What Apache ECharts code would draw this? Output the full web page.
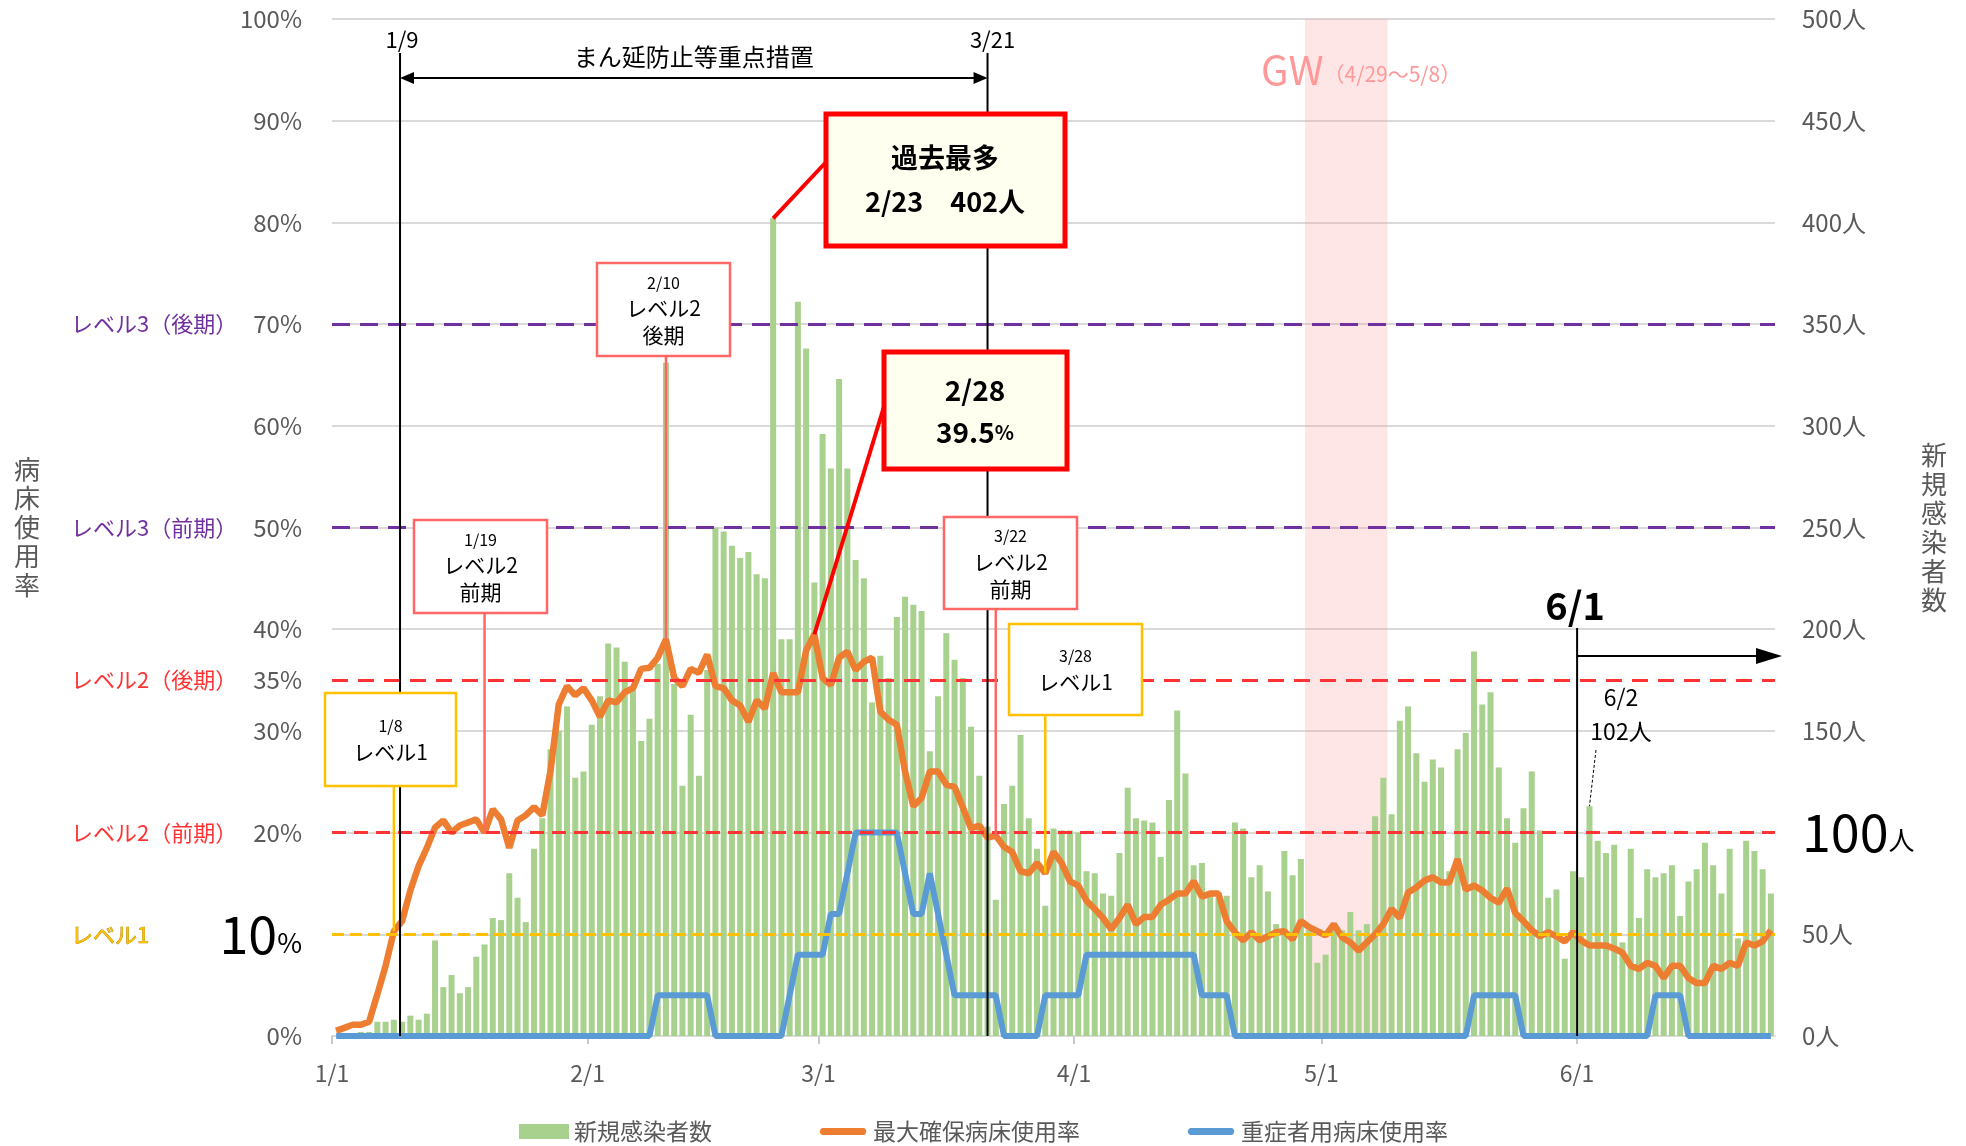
<!DOCTYPE html>
<html>
<head>
<meta charset="utf-8">
<script src="https://cdn.jsdelivr.net/npm/echarts@6/dist/echarts.min.js"></script>
<style>
html, body { margin: 0; padding: 0; background: #fff; }
#main { width: 1966px; height: 1146px; }
</style>
</head>
<body>
<div id="main"></div>
<script>
// 新規感染者数（人）1/1〜6/24
const casesJan = [0, 1, 1, 2, 2, 7, 7, 8, 7, 10, 8, 11, 47, 24, 30, 21, 24, 39, 45, 58, 57, 80, 68, 56, 92, 107, 141, 150, 162, 127, 130]
const casesFeb = [153, 167, 193, 191, 184, 170, 145, 156, 183, 331, 173, 123, 158, 128, 180, 250, 248, 241, 235, 238, 227, 225, 402, 195, 195, 361, 338, 223]
const casesMar = [296, 279, 323, 279, 234, 225, 164, 187, 176, 206, 216, 212, 209, 140, 167, 198, 185, 176, 152, 128, 103, 67, 114, 123, 148, 107, 92, 64, 102, 101, 101]
const casesApr = [100, 81, 80, 70, 69, 90, 122, 107, 106, 105, 88, 116, 160, 129, 84, 85, 70, 68, 69, 105, 102, 78, 84, 71, 55, 91, 79, 87, 52, 36]
const casesMay = [40, 54, 52, 61, 52, 55, 108, 127, 109, 155, 162, 139, 125, 136, 132, 81, 141, 149, 189, 163, 169, 132, 107, 95, 112, 130, 101, 68, 72, 38, 81]
const casesJun = [78, 113, 96, 90, 94, 46, 92, 58, 82, 78, 80, 84, 59, 76, 82, 95, 84, 70, 92, 48, 96, 91, 82, 70]

// 最大確保病床使用率（%）
const bedJan = [0.5, 0.8, 1.1, 1.1, 1.4, 4.1, 6.9, 10.3, 11.3, 14.3, 16.7, 18.5, 20.5, 21.2, 20.0, 20.7, 21.0, 21.3, 20.0, 22.3, 21.3, 18.5, 21.2, 21.7, 22.5, 21.7, 26.1, 32.6, 34.4, 33.5, 34.2]
const bedFeb = [33.0, 31.4, 33.0, 32.8, 33.8, 34.2, 36.1, 36.2, 37.2, 39.0, 35.2, 34.4, 36.1, 35.7, 37.5, 34.4, 34.2, 33.0, 32.5, 30.9, 33.0, 32.2, 35.7, 33.8, 33.8, 33.8, 37.9, 39.5]
const bedMar = [35.2, 34.5, 37.2, 37.8, 36.0, 36.8, 37.2, 31.9, 31.1, 30.6, 26.0, 22.6, 23.4, 26.0, 26.0, 24.7, 24.5, 22.5, 20.4, 20.7, 19.5, 19.7, 18.6, 18.1, 16.2, 16.0, 17.0, 16.0, 18.1, 17.0, 15.2]
const bedApr = [14.8, 13.3, 12.5, 11.6, 10.5, 11.6, 12.9, 11.0, 11.7, 11.7, 12.9, 13.4, 14.0, 14.0, 15.2, 13.7, 14.0, 14.0, 11.3, 10.2, 9.4, 10.2, 9.4, 9.8, 10.2, 10.3, 9.5, 11.3, 10.7, 10.3]
const bedMay = [9.9, 11.0, 9.7, 9.2, 8.4, 9.2, 10.0, 11.0, 12.5, 11.6, 14.1, 14.6, 15.3, 15.6, 15.1, 15.1, 17.4, 14.4, 14.8, 14.3, 13.6, 13.1, 14.5, 12.1, 11.3, 10.4, 9.8, 10.2, 9.8, 9.3, 10.2]
const bedJun = [9.4, 8.9, 8.9, 8.9, 8.6, 8.2, 6.9, 6.6, 7.2, 6.9, 5.7, 6.9, 6.9, 5.7, 5.2, 5.2, 6.9, 6.6, 7.2, 6.9, 9.2, 8.9, 9.3, 10.4]

// 重症者用病床使用率（%）
const sevJan = [0, 0, 0, 0, 0, 0, 0, 0, 0, 0, 0, 0, 0, 0, 0, 0, 0, 0, 0, 0, 0, 0, 0, 0, 0, 0, 0, 0, 0, 0, 0]
const sevFeb = [0, 0, 0, 0, 0, 0, 0, 0, 4, 4, 4, 4, 4, 4, 4, 0, 0, 0, 0, 0, 0, 0, 0, 0, 4, 8, 8, 8]
const sevMar = [8, 12, 12, 16, 20, 20, 20, 20, 20, 20, 16, 12, 12, 16, 12, 8, 4, 4, 4, 4, 4, 4, 0, 0, 0, 0, 0, 4, 4, 4, 4]
const sevApr = [4, 8, 8, 8, 8, 8, 8, 8, 8, 8, 8, 8, 8, 8, 8, 4, 4, 4, 4, 0, 0, 0, 0, 0, 0, 0, 0, 0, 0, 0]
const sevMay = [0, 0, 0, 0, 0, 0, 0, 0, 0, 0, 0, 0, 0, 0, 0, 0, 0, 0, 4, 4, 4, 4, 4, 4, 0, 0, 0, 0, 0, 0, 0]
const sevJun = [0, 0, 0, 0, 0, 0, 0, 0, 0, 4, 4, 4, 4, 0, 0, 0, 0, 0, 0, 0, 0, 0, 0, 0]

const cases = [].concat(casesJan, casesFeb, casesMar, casesApr, casesMay, casesJun)
const bedRate = [].concat(bedJan, bedFeb, bedMar, bedApr, bedMay, bedJun)
const severeRate = [].concat(sevJan, sevFeb, sevMar, sevApr, sevMay, sevJun)

// 日付（カテゴリ）と月初
const days = cases.map((v, i) => {
    const d = new Date(2022, 0, 1 + i)
    return (d.getMonth() + 1) + '/' + d.getDate()
})
const monthStarts = [0, 31, 59, 90, 120, 151]

// 警戒レベル
const levelValues = [70, 50, 35, 20, 10]
const levelNames = ['レベル3（後期）', 'レベル3（前期）', 'レベル2（後期）', 'レベル2（前期）', 'レベル1']

// 期間
const measureFrom = days.indexOf('1/9')
const measureTo = days.indexOf('3/21')
const gwFrom = days.indexOf('4/29')
const gwTo = days.indexOf('5/8') + 1
const peakDay = days.indexOf('2/23')
const peakBedDay = days.indexOf('2/28')

const FONT = '"Noto Sans CJK JP", "Noto Sans", sans-serif'
const GREY = '#595959'
const levelColors = ['#7030A0', '#7030A0', '#FF3333', '#FF3333', '#FFC000']
const levelDash = [[18, 10], [18, 10], [16, 10], [14, 8], [12, 6]]
// 凡例の線アイコン（上下に余白を持たせた太線）
const LINE_ICON = 'path://M0,0L0.01,0L0,0.01Z M50,15L49.99,15L50,14.99Z M4,4L46,4A4,4,0,0,1,46,11L4,11A4,4,0,0,1,4,4Z'

const xy = arr => arr.map((v, i) => [i + 0.5, v])

let myChart = echarts.init(document.getElementById('main'))

let options = {
    animation: false,
    textStyle: { fontFamily: FONT },
    grid: { left: 332, right: 191, top: 19, bottom: 110 },
    legend: {
        left: 514,
        top: 1115,
        itemWidth: 50,
        itemHeight: 15,
        itemGap: 106,
        textStyle: { fontSize: 23, color: GREY, fontFamily: FONT },
        data: [
            { name: '新規感染者数', icon: 'rect' },
            { name: '最大確保病床使用率', icon: LINE_ICON },
            { name: '重症者用病床使用率', icon: LINE_ICON }
        ]
    },
    xAxis: {
        type: 'value',
        min: 0,
        max: cases.length,
        axisLine: { lineStyle: { color: '#D9D9D9', width: 2 } },
        axisTick: { customValues: monthStarts, length: 8, lineStyle: { color: '#C8C8C8', width: 2 } },
        axisLabel: {
            customValues: monthStarts,
            formatter: v => days[v] || '',
            color: GREY,
            fontSize: 23,
            margin: 26
        },
        splitLine: { show: false }
    },
    yAxis: [{
        type: 'value',
        min: 0,
        max: 100,
        interval: 10,
        name: '病\n床\n使\n用\n率',
        nameLocation: 'middle',
        nameRotate: 0,
        nameGap: 292,
        nameTextStyle: { fontSize: 26, lineHeight: 29, color: GREY },
        axisLine: { show: false },
        axisTick: { show: false },
        axisLabel: {
            margin: 30,
            color: GREY,
            fontSize: 24,
            formatter: v => v === 10 ? '{big|10}{small|%}' : v + '%',
            rich: {
                big: { fontSize: 52, color: '#000', fontFamily: FONT },
                small: { fontSize: 27, color: '#000', fontFamily: FONT, padding: [16, 0, 0, 0] }
            }
        },
        splitLine: { lineStyle: { color: '#D9D9D9', width: 2 } }
    }, {
        type: 'value',
        min: 0,
        max: 500,
        interval: 50,
        name: '新\n規\n感\n染\n者\n数',
        nameLocation: 'middle',
        nameRotate: 0,
        nameGap: 146,
        nameTextStyle: { fontSize: 26, lineHeight: 29, color: GREY },
        axisLine: { show: false },
        axisTick: { show: false },
        axisLabel: {
            margin: 27,
            color: GREY,
            fontSize: 24,
            formatter: v => v === 100 ? '{big|100}{small|人}' : v + '人',
            rich: {
                big: { fontSize: 52, color: '#000', fontFamily: FONT },
                small: { fontSize: 26, color: '#000', fontFamily: FONT, padding: [16, 0, 0, 0] }
            }
        },
        splitLine: { show: false }
    }],
    series: [{
        name: '新規感染者数',
        type: 'bar',
        yAxisIndex: 1,
        barWidth: 6,
        z: 1,
        itemStyle: { color: '#A9D18E' },
        data: xy(cases)
    }, {
        name: '重症者用病床使用率',
        type: 'line',
        yAxisIndex: 0,
        symbol: 'none',
        z: 3,
        lineStyle: { color: '#5B9BD5', width: 6 },
        itemStyle: { color: '#5B9BD5' },
        data: xy(severeRate),
        markArea: {
            silent: true,
            itemStyle: { color: 'rgba(255, 150, 150, 0.24)' },
            data: [[{ xAxis: gwFrom }, { xAxis: gwTo }]]
        },
        markLine: {
            silent: true,
            symbol: 'none',
            label: { show: false },
            data: levelValues.map((v, i) => ({
                yAxis: v,
                lineStyle: { color: levelColors[i], width: 3, type: levelDash[i] }
            }))
        }
    }, {
        name: '最大確保病床使用率',
        type: 'line',
        yAxisIndex: 0,
        symbol: 'none',
        z: 4,
        lineStyle: { color: '#ED7D31', width: 6.5 },
        itemStyle: { color: '#ED7D31' },
        data: xy(bedRate)
    }]
}

myChart.setOption(options)

// 注記（位置はチャートの軸から換算）
const X = v => myChart.convertToPixel({ xAxisIndex: 0 }, v)
const P = v => myChart.convertToPixel({ yAxisIndex: 0 }, v)
const N = v => myChart.convertToPixel({ yAxisIndex: 1 }, v)
const g = []

function txt(x, y, text, style) {
    g.push({ type: 'text', x: x, y: y, z: 30, style: Object.assign({
        text: text, fill: '#000', fontSize: 20, fontFamily: FONT, align: 'center', verticalAlign: 'middle'
    }, style || {}) })
}
function ln(x1, y1, x2, y2, stroke, w, dash) {
    g.push({ type: 'line', z: 25, shape: { x1: x1, y1: y1, x2: x2, y2: y2 },
        style: { stroke: stroke, lineWidth: w, lineDash: dash || null } })
}
function tri(points, fill) {
    g.push({ type: 'polygon', z: 26, shape: { points: points }, style: { fill: fill } })
}
function box(x, y, w, h, stroke, lw, fill) {
    g.push({ type: 'rect', z: 28, shape: { x: x, y: y, width: w, height: h },
        style: { fill: fill, stroke: stroke, lineWidth: lw } })
}

// レベル名と35%
levelValues.forEach((v, i) => {
    txt(71, P(v), levelNames[i], {
        align: 'left', fill: levelColors[i], fontSize: 22,
        stroke: i === 4 ? '#A07C00' : null, lineWidth: i === 4 ? 0.7 : 0
    })
})
txt(302, P(35), '35%', { align: 'right', fill: GREY, fontSize: 24 })

// まん延防止等重点措置
const x1 = X(measureFrom + 0.25), x2 = X(measureTo + 0.5), y0 = P(0)
ln(x1, 53, x1, y0, '#000', 2)
ln(x2, 53, x2, y0, '#000', 2)
txt(x1 + 2, 40, '1/9', { fontSize: 22 })
txt(x2 + 5, 40, '3/21', { fontSize: 22 })
ln(x1 + 12, 78, x2 - 12, 78, '#000', 2)
tri([[x1, 78], [x1 + 14, 72], [x1 + 14, 84]], '#000')
tri([[x2, 78], [x2 - 14, 72], [x2 - 14, 84]], '#000')
txt((x1 + x2) / 2, 57, 'まん延防止等重点措置', { fontSize: 24 })

// GW
txt(X(gwFrom) - 44, 70, '{a|GW}{b|（4/29～5/8）}', {
    align: 'left',
    rich: {
        a: { fontSize: 40, fill: '#FF9999', fontFamily: FONT },
        b: { fontSize: 21, fill: '#FF9999', fontFamily: FONT, padding: [8, 0, 0, 0] }
    }
})

// 過去最多
ln(X(peakDay + 0.5), N(cases[peakDay]), 828, 160, '#FF0000', 4)
box(826, 114, 239, 132, '#FF0000', 5, '#FFFFF0')
txt(945, 180, '過去最多\n2/23　402人', { fontSize: 27, fontWeight: 'bold', lineHeight: 44 })

// 2/28 39.5%
ln(X(peakBedDay + 0.5), P(bedRate[peakBedDay]), 886, 400, '#FF0000', 4)
box(884, 352, 183, 117, '#FF0000', 5, '#FFFFF0')
txt(975, 411, '{a|2/28}\n{a|39.5}{b|%}', {
    rich: {
        a: { fontSize: 28, fontWeight: 'bold', fontFamily: FONT, lineHeight: 42 },
        b: { fontSize: 20, fontWeight: 'bold', fontFamily: FONT, lineHeight: 42 }
    }
})

// レベル移行の吹き出し
function callout(day, bx, by, bw, bh, color, lines) {
    const d = days.indexOf(day)
    const px = X(d + 0.5)
    ln(px, by + bh, px, P(bedRate[d]), color, 2.5)
    box(bx, by, bw, bh, color, 2.5, '#fff')
    const text = '{d|' + day + '}\n' + lines.map(s => '{l|' + s + '}').join('\n')
    txt(bx + bw / 2, by + bh / 2, text, {
        rich: {
            d: { fontSize: 16, fontFamily: FONT, lineHeight: 25 },
            l: { fontSize: 21, fontFamily: FONT, lineHeight: 27 }
        }
    })
}
callout('1/8', 325, 693, 131, 93, '#FFC000', ['レベル1'])
callout('1/19', 414, 520, 133, 93, '#FF6666', ['レベル2', '前期'])
callout('2/10', 597, 263, 133, 93, '#FF6666', ['レベル2', '後期'])
callout('3/22', 944, 517, 133, 92, '#FF6666', ['レベル2', '前期'])
callout('3/28', 1009, 624, 133, 91, '#FFC000', ['レベル1'])

// 6/1以降
const x61 = X(monthStarts[5])
ln(x61, 628, x61, y0, '#000', 2)
txt(x61 - 2, 606, '6/1', { fontSize: 38, fontWeight: 'bold' })
ln(x61, 656, 1756, 656, '#000', 2)
tri([[1782, 656], [1756, 648], [1756, 664]], '#000')
const d62 = days.indexOf('6/2')
txt(1621, 697, '6/2', { fontSize: 23 })
txt(1621, 731, '102人', { fontSize: 23 })
ln(1596, 750, X(d62 + 0.5), N(cases[d62]), '#000', 1, [3, 2])

myChart.setOption({ graphic: g })
</script>
</body>
</html>
